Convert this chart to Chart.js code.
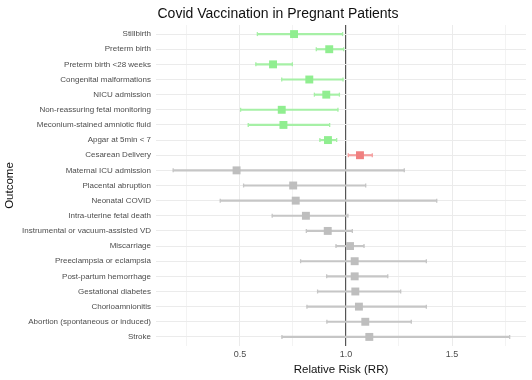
<!DOCTYPE html>
<html>
<head>
<meta charset="utf-8">
<script src="https://cdn.jsdelivr.net/npm/chart.js@4/dist/chart.umd.min.js"></script>
<style>
  body { margin: 0; background: #fff; }
  canvas { display: block; }
</style>
</head>
<body>
<canvas id="forestChart" width="532" height="380"></canvas>
<script>
// Outcomes, top to bottom
const outcomes = [
    'Stillbirth', 'Preterm birth', 'Preterm birth <28 weeks', 'Congenital malformations',
    'NICU admission', 'Non-reassuring fetal monitoring', 'Meconium-stained amniotic fluid',
    'Apgar at 5min < 7', 'Cesarean Delivery', 'Maternal ICU admission', 'Placental abruption',
    'Neonatal COVID', 'Intra-uterine fetal death', 'Instrumental or vacuum-assisted VD',
    'Miscarriage', 'Preeclampsia or eclampsia', 'Post-partum hemorrhage', 'Gestational diabetes',
    'Chorioamnionitis', 'Abortion (spontaneous or induced)', 'Stroke'
];

// Relative risk and 95% CI
const rr = [0.755, 0.921, 0.656, 0.827, 0.907, 0.697, 0.705, 0.915, 1.066, 0.484, 0.751,
            0.763, 0.811, 0.914, 1.019, 1.041, 1.041, 1.044, 1.061, 1.091, 1.110];
const lower = [0.582, 0.860, 0.575, 0.697, 0.851, 0.503, 0.539, 0.877, 1.011, 0.185, 0.517,
               0.407, 0.652, 0.813, 0.953, 0.786, 0.909, 0.866, 0.816, 0.910, 0.698];
const upper = [0.984, 0.989, 0.747, 0.986, 0.969, 0.962, 0.923, 0.956, 1.124, 1.275, 1.093,
               1.428, 1.009, 1.030, 1.085, 1.379, 1.197, 1.258, 1.379, 1.308, 1.772];
// decreased / increased / not significant
const effect = ['down', 'down', 'down', 'down', 'down', 'down', 'down', 'down', 'up', 'ns', 'ns',
                'ns', 'ns', 'ns', 'ns', 'ns', 'ns', 'ns', 'ns', 'ns', 'ns'];

const xTicks = [0.25, 0.5, 0.75, 1.0, 1.25, 1.5, 1.75];

const pointColors = { down: '#90EE90', up: '#F08080', ns: '#BEBEBE' };
const barColors = { down: '#A6F0A6', up: '#F4A0A0', ns: '#C6C6C6' };

const FONT = "'Liberation Sans', Arial, sans-serif";

// Draw the main title over the panel
const titlePlugin = {
    id: 'plotTitle',
    afterDraw(chart) {
        const ctx = chart.ctx;
        ctx.save();
        ctx.font = '14px ' + FONT;
        ctx.fillStyle = '#111';
        ctx.textAlign = 'center';
        ctx.textBaseline = 'alphabetic';
        ctx.fillText('Covid Vaccination in Pregnant Patients', 278, 18);
        ctx.restore();
    }
};

function isHalf(v) {
    return Math.abs(v * 2 - Math.round(v * 2)) < 1e-9;
}

function buildChart() {
    const rowIdx = outcomes.map((_, i) => i);
    const pColors = effect.map(e => pointColors[e]);
    const bColors = effect.map(e => barColors[e]);

    const ctx = document.getElementById('forestChart').getContext('2d');
    new Chart(ctx, {
        type: 'bar',
        data: {
            datasets: [
                {
                    type: 'scatter',
                    data: rowIdx.map(i => ({ x: rr[i], y: i })),
                    pointStyle: 'rect',
                    pointRadius: 5.6,
                    backgroundColor: pColors,
                    borderWidth: 0,
                    order: 0
                },
                {
                    type: 'scatter',
                    data: rowIdx.map(i => ({ x: lower[i], y: i }))
                        .concat(rowIdx.map(i => ({ x: upper[i], y: i }))),
                    pointStyle: 'line',
                    rotation: 90,
                    pointRadius: 2,
                    borderWidth: 1.3,
                    borderColor: bColors.concat(bColors),
                    order: 1
                },
                {
                    type: 'bar',
                    indexAxis: 'y',
                    data: rowIdx.map(i => ({ x: [lower[i], upper[i]], y: i })),
                    backgroundColor: bColors,
                    borderWidth: 0,
                    barThickness: 1.5,
                    order: 2
                }
            ]
        },
        options: {
            responsive: false,
            animation: false,
            layout: { padding: { top: 25, right: 6, bottom: 0, left: 0 } },
            plugins: {
                legend: { display: false },
                tooltip: { enabled: false }
            },
            scales: {
                x: {
                    type: 'linear',
                    offset: false,
                    min: 0.104,
                    max: 1.849,
                    afterBuildTicks: scale => {
                        scale.ticks = xTicks.map(v => ({ value: v }));
                    },
                    afterFit: scale => { scale.height = 34; },
                    border: { display: false },
                    grid: {
                        offset: false,
                        drawTicks: false,
                        color: c => {
                            const v = c.tick ? c.tick.value : 0;
                            if (Math.abs(v - 1) < 1e-9) return '#555555';
                            return isHalf(v) ? '#EBEBEB' : '#F3F3F3';
                        },
                        lineWidth: c => (c.tick && Math.abs(c.tick.value - 1) < 1e-9) ? 1.2 : 1
                    },
                    ticks: {
                        padding: 3,
                        color: '#4D4D4D',
                        font: { family: FONT, size: 9 },
                        callback: v => isHalf(v) ? v.toFixed(1) : ''
                    },
                    title: {
                        display: true,
                        text: 'Relative Risk (RR)',
                        color: '#111',
                        font: { family: FONT, size: 11.5 },
                        padding: { top: 2, bottom: 3 }
                    }
                },
                y: {
                    type: 'linear',
                    offset: false,
                    reverse: true,
                    min: -0.6,
                    max: 20.6,
                    afterBuildTicks: scale => {
                        scale.ticks = outcomes.map((_, i) => ({ value: i }));
                    },
                    afterFit: scale => { scale.width = 156; },
                    border: { display: false },
                    grid: {
                        offset: false,
                        drawTicks: false,
                        color: '#EBEBEB',
                        lineWidth: 1
                    },
                    ticks: {
                        padding: 5,
                        color: '#4D4D4D',
                        font: { family: FONT, size: 8 },
                        callback: v => outcomes[v]
                    },
                    title: {
                        display: true,
                        text: 'Outcome',
                        color: '#111',
                        font: { family: FONT, size: 11.5 },
                        padding: { top: 3, bottom: 2 }
                    }
                }
            }
        },
        plugins: [titlePlugin]
    });
}

document.addEventListener('DOMContentLoaded', buildChart);
</script>
</body>
</html>
